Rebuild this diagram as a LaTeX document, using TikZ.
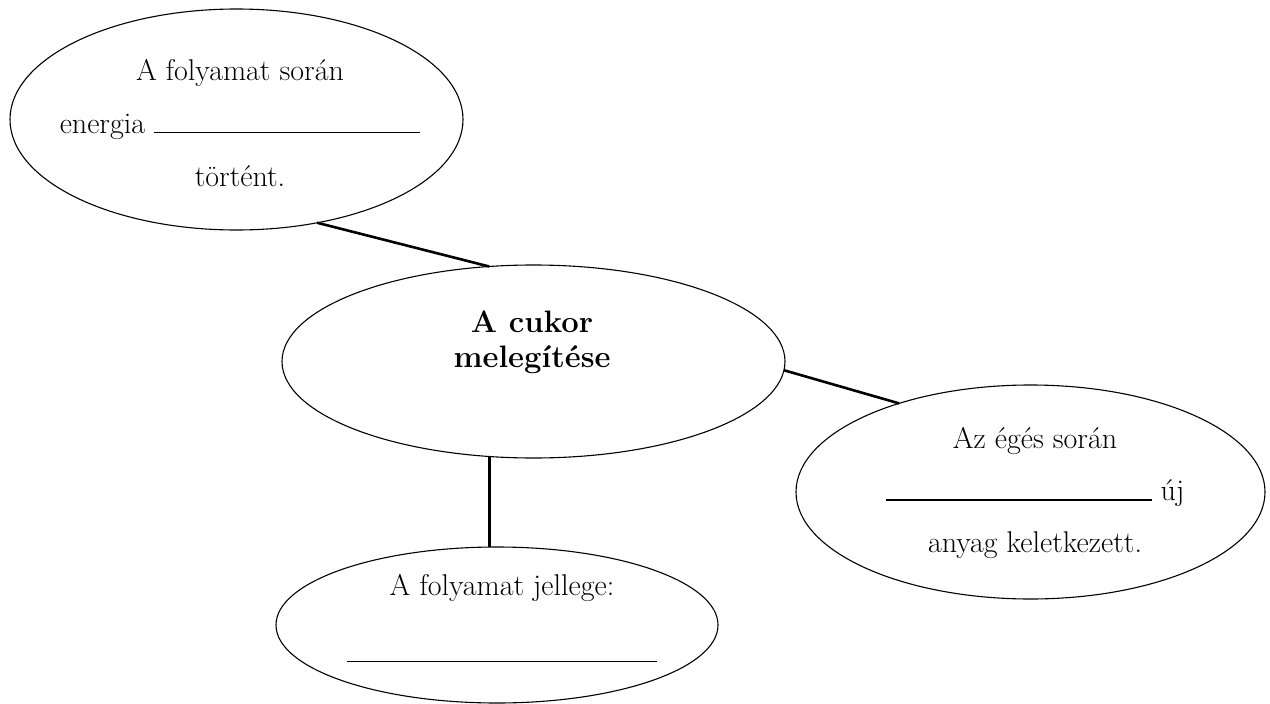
\documentclass[tikz,border=0pt]{standalone}
\usetikzlibrary{shapes.geometric}
\begin{document}
\begin{tikzpicture}[x=1pt,y=-1pt,
bubble/.style={draw,ellipse,line width=1.1pt,inner sep=0pt,outer sep=0pt},
link/.style={line width=2.6pt},
txt/.style={align=center,font=\fontsize{30}{53}\selectfont}]
\useasboundingbox (0,0) rectangle (1270,704);
\node[bubble,minimum width=453,minimum height=221] (proc) at (236.5,119.5) {};
\node[bubble,minimum width=503,minimum height=193] (heat) at (533.5,361.5) {};
\node[bubble,minimum width=469,minimum height=214] (burn) at (1030.5,492) {};
\node[bubble,minimum width=442,minimum height=156] (kind) at (497,625) {};
\node[txt] (proctxt) at (240,122.6) {A folyamat során\\energia \rule{266pt}{1.2pt}\\történt.};
\node[txt,font=\fontsize{31}{35}\selectfont\bfseries] (heattxt) at (532,342.7) {A cukor\\melegítése};
\node[txt,font=\fontsize{30}{52}\selectfont] (burntxt) at (1035,493) {Az égés során\\\rule{266pt}{1.2pt} új\\anyag keletkezett.};
\node[txt,font=\fontsize{30}{67}\selectfont] (kindtxt) at (502,618) {A folyamat jellege:\\\rule{310pt}{1.2pt}};
\draw[link] (proc.-52.4) -- (heat.115.7);
\draw[link] (heat.-2.6) -- (burn.146.3);
\draw[link] (heat.-115) -- (heat.-115 |- kind.north);
\end{tikzpicture}
\end{document}
